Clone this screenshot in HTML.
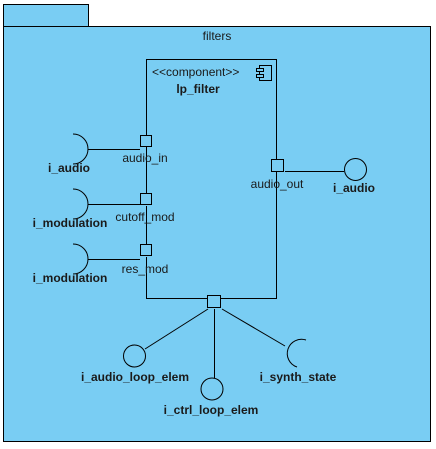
<!DOCTYPE html>
<html><head><meta charset="utf-8"><style>
html,body{margin:0;padding:0;background:#fff;}
svg{display:block;}
text{font-family:"Liberation Sans",Arial,sans-serif;font-size:12px;fill:#1a1a1a;}
.b{font-weight:bold;}
</style></head><body>
<svg width="436" height="449" viewBox="0 0 436 449" xmlns="http://www.w3.org/2000/svg">
<g stroke="#000" stroke-width="1" fill="#79CDF3">
<rect x="3.5" y="4.5" width="85" height="22"/>
<rect x="3.5" y="26.5" width="427" height="415"/>
</g>
<text x="217" y="40" text-anchor="middle">filters</text>
<g stroke="#000" fill="none" stroke-width="1">
<path d="M146.5 135 V59.5 H276.5 V159 M276.5 172 V298.5 H220 M207 298.5 H146.5 V257"/>
<path d="M146.5 147 V193 M146.5 206 V244"/>
<rect x="259.5" y="65.5" width="12" height="15" fill="#79CDF3"/>
<rect x="256.5" y="68.5" width="7" height="3" fill="#79CDF3"/>
<rect x="256.5" y="74.5" width="7" height="3" fill="#79CDF3"/>
<rect x="140.5" y="135.5" width="11" height="11" fill="#79CDF3"/>
<rect x="140.5" y="193.5" width="11" height="11" fill="#79CDF3"/>
<rect x="140.5" y="244.5" width="11" height="11" fill="#79CDF3"/>
<rect x="271.5" y="159.5" width="12" height="12" fill="#79CDF3"/>
<rect x="207.5" y="295.5" width="13" height="12" fill="#79CDF3"/>
<path d="M73 134 A15 15 0 0 1 73 164"/><line x1="88" y1="149.5" x2="140" y2="149.5"/>
<path d="M73 189 A15 15 0 0 1 73 219"/><line x1="88" y1="204.5" x2="140" y2="204.5"/>
<path d="M73 244 A15 15 0 0 1 73 274"/><line x1="88" y1="259.5" x2="140" y2="259.5"/>
<line x1="285" y1="171.5" x2="344" y2="171.5"/>
<circle cx="355.5" cy="169.5" r="11"/>
<line x1="208" y1="309" x2="145" y2="349"/>
<circle cx="134.5" cy="356" r="11"/>
<line x1="214.5" y1="309" x2="214.5" y2="378"/>
<circle cx="212" cy="389" r="11"/>
<line x1="222" y1="309" x2="285" y2="346"/>
<path d="M306 340 A14 14 0 1 0 297 367"/>
</g>
<text x="152" y="76">&lt;&lt;component&gt;&gt;</text>
<text x="198" y="93" class="b" text-anchor="middle">lp_filter</text>
<text x="145" y="162" text-anchor="middle">audio_in</text>
<text x="145" y="221" text-anchor="middle">cutoff_mod</text>
<text x="145" y="273" text-anchor="middle">res_mod</text>
<text x="277" y="188" text-anchor="middle">audio_out</text>
<text x="69" y="172" class="b" text-anchor="middle">i_audio</text>
<text x="70" y="227" class="b" text-anchor="middle">i_modulation</text>
<text x="70" y="282" class="b" text-anchor="middle">i_modulation</text>
<text x="354" y="192" class="b" text-anchor="middle">i_audio</text>
<text x="135" y="381" class="b" text-anchor="middle">i_audio_loop_elem</text>
<text x="211" y="414" class="b" text-anchor="middle">i_ctrl_loop_elem</text>
<text x="298" y="381" class="b" text-anchor="middle">i_synth_state</text>
</svg>
</body></html>
